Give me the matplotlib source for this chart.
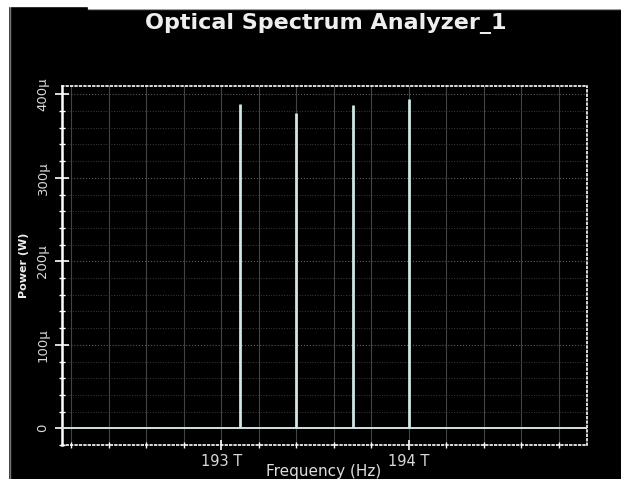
import matplotlib.pyplot as plt
from matplotlib.ticker import MultipleLocator, FixedLocator
from matplotlib.patches import Rectangle
from matplotlib.lines import Line2D

# peaks (THz, W)
peak_freq = [193.1, 193.4, 193.7, 194.0]
peak_power = [388e-6, 378e-6, 387e-6, 394e-6]

x_ticks = [193.0, 194.0]
x_tick_labels = ['193 T', '194 T']
y_ticks = [0, 100e-6, 200e-6, 300e-6, 400e-6]
y_tick_labels = ['0', '100μ', '200μ', '300μ', '400μ']

W, H = 621, 479
fig = plt.figure(figsize=(W / 100, H / 100), dpi=100, facecolor='black')

# white scan border on the left and top
fig.patches.append(Rectangle((0, 0), 8 / W, 1, transform=fig.transFigure, color='white', zorder=5))
fig.patches.append(Rectangle((0, 1 - 6 / H), 1, 6 / H, transform=fig.transFigure, color='white', zorder=5))
fig.patches.append(Rectangle((88 / W, 1 - 8 / H), 1, 8 / H, transform=fig.transFigure, color='white', zorder=5))
fig.lines.append(Line2D([88 / W, 1], [1 - 8.5 / H, 1 - 8.5 / H], transform=fig.transFigure, color='#888888', lw=1))
fig.lines.append(Line2D([9.5 / W, 9.5 / W], [0, 1 - 6 / H], transform=fig.transFigure, color='#777777', lw=1))

ax = fig.add_axes([62 / W, 1 - 445 / H, 525 / W, 359 / H], facecolor='black')

# baseline + channel lines
ax.axhline(0, color='#d6e0e0', lw=1.4, zorder=3)
ax.vlines(peak_freq, 0, peak_power, color='#d0e6e6', lw=2, zorder=4)

ax.set_xlim(192.15, 194.95)
ax.set_ylim(-20e-6, 410e-6)

ax.xaxis.set_major_locator(FixedLocator(x_ticks))
ax.set_xticklabels(x_tick_labels)
ax.xaxis.set_minor_locator(MultipleLocator(0.2))
ax.yaxis.set_major_locator(FixedLocator(y_ticks))
ax.set_yticklabels(y_tick_labels, rotation=90, va='center')
ax.yaxis.set_minor_locator(MultipleLocator(20e-6))

ax.grid(which='major', axis='y', color='#5a5a5a', lw=0.8, ls=':')
ax.grid(which='minor', axis='y', color='#3c3c3c', lw=0.7, ls=':')
ax.grid(which='both', axis='x', color='#444444', lw=0.8)

for side in ['top', 'bottom', 'right']:
    ax.spines[side].set_color('white')
    ax.spines[side].set_linestyle(':')
    ax.spines[side].set_linewidth(1.2)
ax.spines['left'].set_color('white')
ax.spines['left'].set_linewidth(1.8)

ax.tick_params(axis='y', which='major', direction='inout', length=10, width=1.2,
               colors='white', labelcolor='#d8d8d8', labelsize=9.5, pad=4)
ax.tick_params(axis='y', which='minor', direction='inout', length=4, width=1, colors='white')
ax.tick_params(axis='x', which='major', direction='inout', length=7, width=1.2,
               colors='white', labelcolor='#d8d8d8', labelsize=10.5, pad=3)
ax.tick_params(axis='x', which='minor', direction='inout', length=4, width=1, colors='white')

fig.text(326 / W, 1 - 24 / H, 'Optical Spectrum Analyzer_1', ha='center', va='center',
         color='#eeeeee', fontsize=16, fontweight='bold')
fig.text(24 / W, 1 - 265 / H, 'Power (W)', ha='center', va='center', rotation=90,
         color='#eeeeee', fontsize=8, fontweight='bold')
fig.text(324 / W, 1 - 464 / H, 'Frequency (Hz)', ha='center', va='top',
         color='#dddddd', fontsize=11)

fig.savefig('out.png', dpi=100, facecolor='black')
